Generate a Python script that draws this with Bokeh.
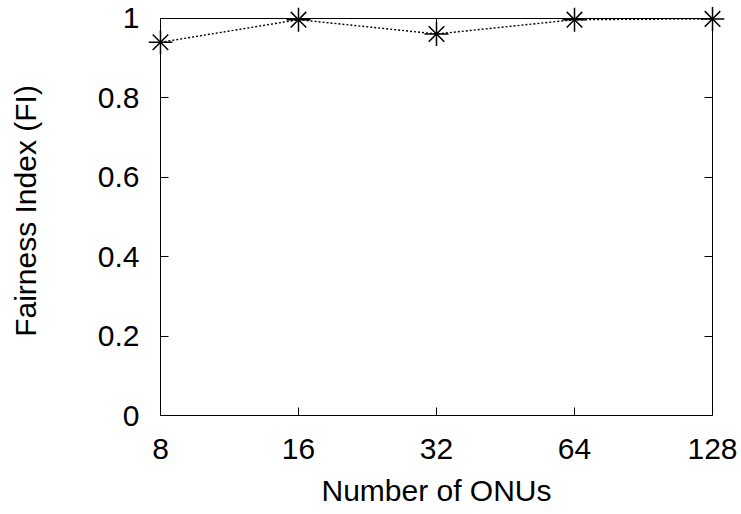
from bokeh.plotting import figure
from bokeh.models import LinearAxis, LogAxis, FixedTicker, NumeralTickFormatter, Range1d
from bokeh.embed import file_html
from bokeh.resources import INLINE

onus = [8, 16, 32, 64, 128]
fairness = [0.940, 0.997, 0.961, 0.997, 0.999]
x_ticks = [8, 16, 32, 64, 128]
y_ticks = [0, 0.2, 0.4, 0.6, 0.8, 1]
x_lo, x_hi = 8, 128
y_lo, y_hi = 0, 1

FONT = "Liberation Sans"
R = 1.062  # frame padding (log) so markers are not clipped
YP = 0.0302

p = figure(width=741, height=514, output_backend="svg", toolbar_location=None,
           x_axis_type="log", x_range=Range1d(x_lo / R, x_hi * R), y_range=Range1d(y_lo, y_hi + YP),
           min_border_left=148, min_border_right=17, min_border_top=6, min_border_bottom=99)
p.background_fill_color = "white"
p.border_fill_color = "white"
p.outline_line_color = None
p.grid.visible = False

p.line(onus, fairness, line_color="black", line_width=1.4, line_dash="2 2")
p.scatter(onus, fairness, marker="cross", size=24, line_color="black", line_width=1.5)
p.scatter(onus, fairness, marker="x", size=22, line_color="black", line_width=1.5)

def style(ax, labels=True, lines=True):
    ax.major_tick_in = 8 if lines else 0
    ax.major_tick_out = 0
    ax.minor_tick_in = 0
    ax.minor_tick_out = 0
    ax.axis_line_color = "black" if lines else None
    ax.axis_line_width = 1
    ax.major_tick_line_color = "black" if lines else None
    ax.minor_tick_line_color = None
    ax.major_label_text_font = FONT
    ax.major_label_text_font_size = "30px"
    ax.major_label_text_color = "black"
    ax.axis_label_text_font = FONT
    ax.axis_label_text_font_size = "30px"
    ax.axis_label_text_font_style = "normal"
    ax.axis_label_text_color = "black"
    if not labels:
        ax.major_label_text_font_size = "0px"
        ax.major_label_text_alpha = 0
        ax.major_label_standoff = 0

# bottom axis: line, ticks and labels (y=0 is the frame bottom)
xa = p.xaxis[0]
xa.ticker = FixedTicker(ticks=x_ticks)
xa.formatter = NumeralTickFormatter(format="0")
xa.axis_label = "Number of ONUs"
xa.bounds = (x_lo, x_hi)
style(xa)
xa.major_label_standoff = 23
xa.axis_label_standoff = 12

# left axis: labels only (line and ticks drawn by the fixed axis below)
ya = p.yaxis[0]
ya.ticker = FixedTicker(ticks=y_ticks)
ya.formatter = NumeralTickFormatter(format="0.[0]")
ya.axis_label = "Fairness Index (FI)"
style(ya, lines=False)
ya.major_label_standoff = 9
ya.axis_label_standoff = 53

left_line = LinearAxis(ticker=FixedTicker(ticks=y_ticks), bounds=(y_lo, y_hi), fixed_location=x_lo)
style(left_line, labels=False)
p.add_layout(left_line, "left")

top = LogAxis(ticker=FixedTicker(ticks=x_ticks), bounds=(x_lo, x_hi), fixed_location=y_hi)
style(top, labels=False)
p.add_layout(top, "above")
right = LinearAxis(ticker=FixedTicker(ticks=y_ticks), bounds=(y_lo, y_hi), fixed_location=x_hi)
style(right, labels=False)
p.add_layout(right, "right")

open("out.html", "w").write(file_html(p, INLINE))
